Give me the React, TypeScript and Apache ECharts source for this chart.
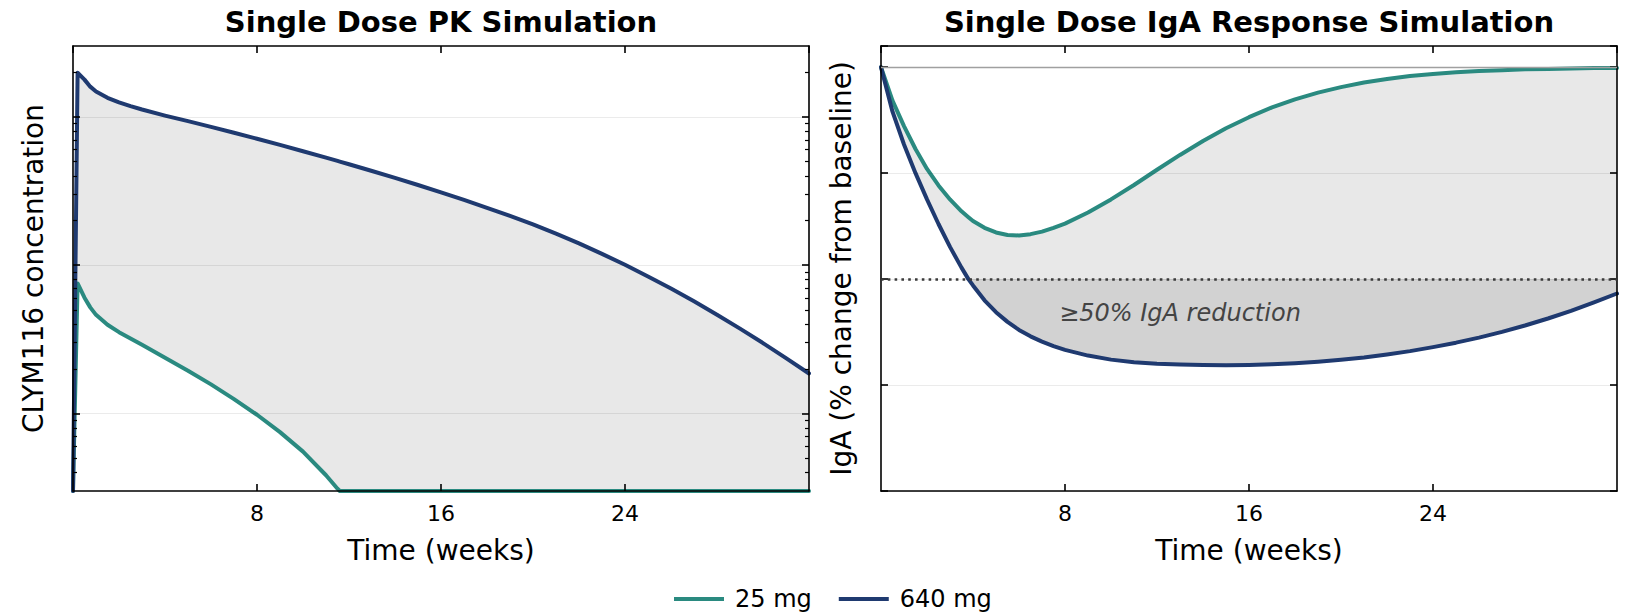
import React, { useEffect, useRef } from "react";
import * as echarts from "echarts";

// ---------------- data ----------------
const weeksPK = [0, 0.2, 0.5, 0.75, 1, 1.5, 2, 2.5, 3, 4, 5, 6, 7, 8, 9, 10, 11, 11.5, 11.6, 12, 13, 14, 15, 16, 17, 18, 19, 20, 21, 22, 23, 24, 25, 26, 27, 28, 29, 30, 31, 32];
const pk25mg = [3, 75.2, 60.3, 51.9, 46.2, 39.6, 35.3, 32, 29, 23.7, 19.4, 15.7, 12.5, 9.8, 7.48, 5.53, 3.83, 3.11, 3, 3, 3, 3, 3, 3, 3, 3, 3, 3, 3, 3, 3, 3, 3, 3, 3, 3, 3, 3, 3, 3];
const pk640mg = [3, 1980, 1780, 1596, 1481, 1343, 1250, 1179, 1119, 1018.6, 934, 855, 780.5, 711, 646, 586, 530, 504, 499, 478.6, 431, 387, 346.6, 309.4, 275.1, 243.5, 214.6, 187.9, 162.9, 140, 119.1, 100.5, 83.9, 69.5, 57, 46.3, 37.3, 29.8, 23.6, 18.6];

const weeksIgA = [0, 0.5, 1, 1.5, 2, 2.5, 3, 3.5, 3.8, 4, 4.5, 5, 5.5, 6, 6.5, 7, 7.5, 8, 9, 10, 11, 12, 13, 14, 15, 16, 17, 18, 19, 20, 21, 22, 23, 24, 25, 26, 27, 28, 29, 30, 31, 32];
const iga25mg = [0, -7.9, -13.9, -19.3, -24, -27.9, -31.2, -34, -35.4, -36.3, -37.9, -39, -39.6, -39.7, -39.4, -38.8, -37.9, -36.9, -34.3, -31.2, -27.8, -24.2, -20.7, -17.4, -14.4, -11.8, -9.5, -7.6, -6, -4.7, -3.6, -2.8, -2.1, -1.6, -1.2, -0.9, -0.7, -0.5, -0.4, -0.3, -0.2, -0.2];
const iga640mg = [0, -10.5, -18.25, -25, -31.2, -37, -42.4, -47.3, -50, -51.5, -55, -57.8, -60.1, -62, -63.5, -64.75, -65.8, -66.7, -68.05, -69, -69.6, -69.95, -70.15, -70.25, -70.3, -70.25, -70.1, -69.85, -69.5, -69.05, -68.5, -67.8, -67, -66.05, -65, -63.8, -62.45, -60.95, -59.3, -57.5, -55.5, -53.4];

const doseLabels = ["25 mg", "640 mg"];
const panelTitles = ["Single Dose PK Simulation", "Single Dose IgA Response Simulation"];
const xAxisName = "Time (weeks)";
const yAxisNames = ["CLYM116 concentration", "IgA (% change from baseline)"];
const weekRange = [0, 32];
const weekTickStep = 8;
const pkRange = [3, 3000];
const pkMajorTicks = [10, 100, 1000];
const pkMinorTicks = [4, 5, 6, 7, 8, 9, 20, 30, 40, 50, 60, 70, 80, 90, 200, 300, 400, 500, 600, 700, 800, 900, 2000];
const igaRange = [-100, 5];
const igaTickStep = 25;
const igaBaseline = 0;
const igaThreshold = -50;
const annotationText = "≥50% IgA reduction";
const annotationAt = [13, -58];

// ---------------- style ----------------
const FONT = "DejaVu Sans";
const TEAL = "#2a8a80";
const NAVY = "#1f3a70";
const FILL_LIGHT = "#e8e8e8";
const FILL_DARK = "#d2d2d2";
const GRID_COLOR = "rgba(0,0,0,0.08)";
const SPINE = 1.6;
const LINE_W = 4;

const pairs = (xs: number[], ys: number[]) => xs.map((x, i) => [x, ys[i]]);

export default function App() {
  const ref = useRef<HTMLDivElement>(null);

  useEffect(() => {
    const chart = echarts.init(ref.current!, null, { renderer: "svg" });

    const grids = [
      { left: 73, top: 46, width: 736, height: 445 },
      { left: 881, top: 46, width: 736, height: 445 },
    ];
    const centers = grids.map((g) => g.left + g.width / 2);

    const axisLine = { show: true, onZero: false, lineStyle: { color: "#000", width: SPINE } };
    const tick = (len: number, width: number, extra: any = {}) => ({
      show: true,
      inside: true,
      length: len,
      lineStyle: { color: "#000", width },
      ...extra,
    });
    const nameStyle = { fontSize: 28, color: "#000", fontFamily: FONT };

    const xAxes: any[] = [];
    [0, 1].forEach((g) => {
      xAxes.push({
        type: "value",
        gridIndex: g,
        position: "bottom",
        min: weekRange[0],
        max: weekRange[1],
        interval: weekTickStep,
        axisLine,
        axisTick: tick(7, SPINE),
        axisLabel: {
          show: true,
          fontSize: 22,
          color: "#000",
          fontFamily: FONT,
          margin: 11,
          showMinLabel: false,
          showMaxLabel: false,
        },
        splitLine: { show: false },
        name: xAxisName,
        nameLocation: "middle",
        nameGap: 45,
        nameTextStyle: nameStyle,
        z: 4,
      });
      xAxes.push({
        type: "value",
        gridIndex: g,
        position: "top",
        min: weekRange[0],
        max: weekRange[1],
        interval: weekTickStep,
        axisLine,
        axisTick: tick(7, SPINE),
        axisLabel: { show: false },
        splitLine: { show: false },
        z: 4,
      });
    });

    const pkAxis = (position: string, major: boolean, withName: boolean) => ({
      type: "log",
      logBase: 10,
      gridIndex: 0,
      position,
      min: pkRange[0],
      max: pkRange[1],
      axisLine: major ? axisLine : { show: false, onZero: false },
      axisTick: major
        ? tick(7, SPINE, { customValues: pkMajorTicks })
        : tick(4, 1.2, { customValues: pkMinorTicks }),
      axisLabel: { show: false },
      splitLine: {
        show: major && withName,
        lineStyle: { color: GRID_COLOR, width: 1.2 },
      },
      name: withName ? yAxisNames[0] : "",
      nameLocation: "middle",
      nameGap: 26,
      nameTextStyle: nameStyle,
      z: 4,
    });

    const igaAxis = (position: string, withName: boolean) => ({
      type: "value",
      gridIndex: 1,
      position,
      min: igaRange[0],
      max: igaRange[1],
      interval: igaTickStep,
      axisLine,
      axisTick: tick(7, SPINE),
      axisLabel: { show: false },
      splitLine: { show: withName, lineStyle: { color: GRID_COLOR, width: 1.2 } },
      name: withName ? yAxisNames[1] : "",
      nameLocation: "middle",
      nameGap: 26,
      nameTextStyle: nameStyle,
      z: 4,
    });

    const yAxes = [
      pkAxis("left", true, true), // 0
      pkAxis("right", true, false), // 1
      pkAxis("left", false, false), // 2
      pkAxis("right", false, false), // 3
      igaAxis("left", true), // 4
      igaAxis("right", false), // 5
    ];

    const deepLower = iga640mg.map((v) => Math.min(v, igaThreshold));
    const deepUpper = weeksIgA.map(() => igaThreshold);

    const lineSeries = (name: string, color: string, xs: number[], ys: number[], xi: number, yi: number, extra: any = {}) => ({
      name,
      type: "line",
      xAxisIndex: xi,
      yAxisIndex: yi,
      data: pairs(xs, ys),
      symbol: "none",
      showSymbol: false,
      smooth: false,
      color,
      itemStyle: { color },
      lineStyle: { color, width: LINE_W, join: "round", cap: "round" },
      z: 3,
      ...extra,
    });

    // filled band between two curves, drawn as one polygon through the axes' scales
    const bandSeries = (name: string, xs: number[], upper: number[], lower: number[], xi: number, yi: number, fill: string, z: number) => ({
      name,
      type: "custom",
      xAxisIndex: xi,
      yAxisIndex: yi,
      silent: true,
      clip: true,
      z,
      data: pairs(xs, upper),
      renderItem: (params: any, api: any) => {
        if (params.dataIndex !== 0) return null;
        const top = xs.map((x, i) => api.coord([x, upper[i]]));
        const bottom = xs.map((x, i) => api.coord([x, lower[i]])).reverse();
        return {
          type: "polygon",
          shape: { points: top.concat(bottom) },
          style: { fill, stroke: null },
        };
      },
    });

    const option: any = {
      animation: false,
      backgroundColor: "#fff",
      grid: grids,
      xAxis: xAxes,
      yAxis: yAxes,
      legend: {
        data: doseLabels,
        left: 669,
        top: 582,
        itemWidth: 50,
        itemHeight: 4,
        itemGap: 27,
        icon: "rect",
        textStyle: { fontSize: 24, color: "#000", fontFamily: FONT, padding: [0, 0, 0, 6] },
      },
      graphic: panelTitles.map((t, i) => ({
        type: "text",
        x: centers[i],
        y: 22,
        style: {
          text: t,
          align: "center",
          verticalAlign: "middle",
          fontSize: 29,
          fontWeight: "bold",
          fontFamily: FONT,
          fill: "#000",
        },
      })),
      series: [
        bandSeries("pk-band", weeksPK, pk640mg, pk25mg, 0, 0, FILL_LIGHT, 1),
        lineSeries(doseLabels[0], TEAL, weeksPK, pk25mg, 0, 0),
        lineSeries(doseLabels[1], NAVY, weeksPK, pk640mg, 0, 0),

        bandSeries("iga-band", weeksIgA, iga25mg, iga640mg, 2, 4, FILL_LIGHT, 1),
        bandSeries("iga-deep", weeksIgA, deepUpper, deepLower, 2, 4, FILL_DARK, 1.5),
        lineSeries(doseLabels[0], TEAL, weeksIgA, iga25mg, 2, 4),
        lineSeries(doseLabels[1], NAVY, weeksIgA, iga640mg, 2, 4, {
          markLine: {
            silent: true,
            symbol: ["none", "none"],
            label: { show: false },
            data: [
              { yAxis: igaBaseline, lineStyle: { color: "#a0a0a0", width: 1.3, type: "solid" } },
              { yAxis: igaThreshold, lineStyle: { color: "#3a3a3a", width: 2.6, type: [2.6, 4.2] } },
            ],
          },
          markPoint: {
            silent: true,
            symbol: "rect",
            symbolSize: 1,
            itemStyle: { color: "rgba(0,0,0,0)" },
            label: {
              show: true,
              position: "inside",
              formatter: annotationText,
              fontSize: 24,
              fontStyle: "italic",
              color: "#444",
              fontFamily: FONT,
            },
            data: [{ coord: annotationAt }],
          },
        }),
      ],
    };

    chart.setOption(option);
    return () => chart.dispose();
  }, []);

  return (
    <div
      ref={ref}
      style={{ position: "fixed", left: 0, top: 0, width: "1627px", height: "615px", background: "#fff" }}
    />
  );
}
